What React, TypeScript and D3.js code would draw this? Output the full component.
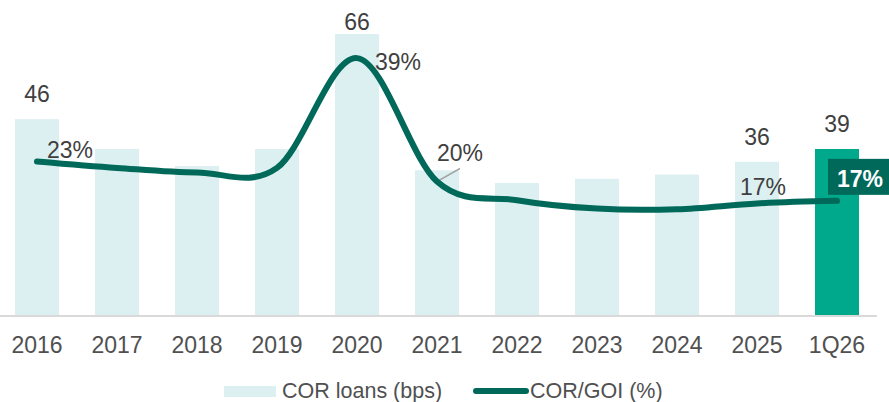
import { useEffect, useRef } from "react";
import * as d3 from "d3";

const categories = ["2016", "2017", "2018", "2019", "2020", "2021", "2022", "2023", "2024", "2025", "1Q26"];
const corLoans = [46, 39, 35, 39, 66, 34, 31, 32, 33, 36, 39];
const corGoi = [23.0, 22.0, 21.3, 22.0, 39.0, 19.9, 17.0, 15.7, 15.6, 16.5, 16.9];
const barLabels = ["46", "", "", "", "66", "", "", "", "", "36", "39"];
const lineLabels = ["23%", "", "", "", "39%", "20%", "", "", "", "17%", ""];
const highlight = "1Q26";
const highlightLabel = "17%";

const width = 889;
const height = 402;
const font = "'Liberation Sans', Arial, sans-serif";
const textColor = "#404040";
const barColor = "#dcf0f2";
const barHighlight = "#00a98b";
const lineColor = "#00695a";

// hand placed label nudges, relative to the line point
const lineLabelOffsets: Record<string, [number, number]> = {
  "2016": [10, -3],
  "2020": [18, 12],
  "2021": [0, -20],
  "2025": [-17, -8],
};

const buildChart = (ref: SVGSVGElement) => {
  const svg = d3.select(ref);
  svg.selectAll("*").remove();

  const x = d3
    .scaleBand<string>()
    .domain(categories)
    .range([-3, 877])
    .paddingInner(0.45)
    .paddingOuter(0.225);
  const yBar = d3.scaleLinear().domain([0, 74]).range([315, 0]);
  const yLine = d3.scaleLinear().domain([0, 48]).range([310, 0]);
  const cx = (c: string) => (x(c) ?? 0) + x.bandwidth() / 2;

  const g = svg.append("g").style("font-family", font);

  g.selectAll("rect.bar")
    .data(categories)
    .enter()
    .append("rect")
    .attr("class", "bar")
    .attr("x", (d) => x(d)!)
    .attr("width", x.bandwidth())
    .attr("y", (d, i) => yBar(corLoans[i]))
    .attr("height", (d, i) => yBar(0) - yBar(corLoans[i]))
    .attr("fill", (d) => (d === highlight ? barHighlight : barColor));

  g.append("line")
    .attr("x1", 0)
    .attr("x2", 877)
    .attr("y1", yBar(0) + 1)
    .attr("y2", yBar(0) + 1)
    .attr("stroke", "#d9d9d9")
    .attr("stroke-width", 2);

  // leader for the 2021 label
  const i21 = categories.indexOf("2021");
  g.append("line")
    .attr("x1", cx("2021"))
    .attr("y1", yLine(corGoi[i21]))
    .attr("x2", cx("2021") + 23)
    .attr("y2", yLine(corGoi[i21]) - 13)
    .attr("stroke", "#a6a6a6")
    .attr("stroke-width", 1.5);

  const line = d3
    .line<number>()
    .x((d, i) => cx(categories[i]))
    .y((d) => yLine(d))
    .curve(d3.curveCardinal.tension(0));

  g.append("path")
    .attr("d", line(corGoi)!)
    .attr("fill", "none")
    .attr("stroke", lineColor)
    .attr("stroke-width", 6)
    .attr("stroke-linecap", "round");

  // bar value labels
  g.selectAll("text.barlabel")
    .data(categories)
    .enter()
    .append("text")
    .attr("class", "barlabel")
    .attr("x", (d) => cx(d))
    .attr("y", (d, i) => Math.max(30, yBar(corLoans[i]) - 17))
    .attr("text-anchor", "middle")
    .attr("font-size", 23)
    .attr("fill", textColor)
    .text((d, i) => barLabels[i]);

  // line value labels
  g.selectAll("text.linelabel")
    .data(categories)
    .enter()
    .append("text")
    .attr("class", "linelabel")
    .attr("x", (d) => cx(d) + (lineLabelOffsets[d]?.[0] ?? 0))
    .attr("y", (d, i) => yLine(corGoi[i]) + (lineLabelOffsets[d]?.[1] ?? 0))
    .attr("font-size", 23)
    .attr("fill", textColor)
    .text((d, i) => lineLabels[i]);

  // highlighted last point
  const last = corGoi[categories.indexOf(highlight)];
  g.append("rect")
    .attr("x", cx(highlight) - 9)
    .attr("y", yLine(last) - 42)
    .attr("width", 70)
    .attr("height", 36)
    .attr("fill", lineColor);
  g.append("text")
    .attr("x", cx(highlight))
    .attr("y", yLine(last) - 14)
    .attr("font-size", 23)
    .attr("font-weight", "bold")
    .attr("fill", "#ffffff")
    .text(highlightLabel);

  // x axis labels
  g.selectAll("text.tick")
    .data(categories)
    .enter()
    .append("text")
    .attr("class", "tick")
    .attr("x", (d) => cx(d))
    .attr("y", 353)
    .attr("text-anchor", "middle")
    .attr("font-size", 23)
    .attr("fill", "#505050")
    .text((d) => d);

  // legend
  const legend = g.append("g").attr("transform", "translate(224 391)");
  legend.append("rect").attr("x", 0).attr("y", -5).attr("width", 52).attr("height", 11).attr("fill", barColor);
  legend
    .append("text")
    .attr("x", 58)
    .attr("y", 6.5)
    .attr("font-size", 21.5)
    .attr("fill", "#505050")
    .text("COR loans (bps)");
  legend
    .append("line")
    .attr("x1", 252)
    .attr("x2", 302)
    .attr("y1", 0)
    .attr("y2", 0)
    .attr("stroke", lineColor)
    .attr("stroke-width", 6)
    .attr("stroke-linecap", "round");
  legend
    .append("text")
    .attr("x", 306)
    .attr("y", 6.5)
    .attr("font-size", 21.5)
    .attr("fill", "#505050")
    .text("COR/GOI (%)");
};

export default function App() {
  const ref = useRef<SVGSVGElement>(null);
  useEffect(() => {
    if (ref.current) buildChart(ref.current);
  }, []);
  return (
    <svg
      ref={ref}
      width={width}
      height={height}
      style={{ position: "absolute", left: 0, top: 0, background: "#fff" }}
    />
  );
}
